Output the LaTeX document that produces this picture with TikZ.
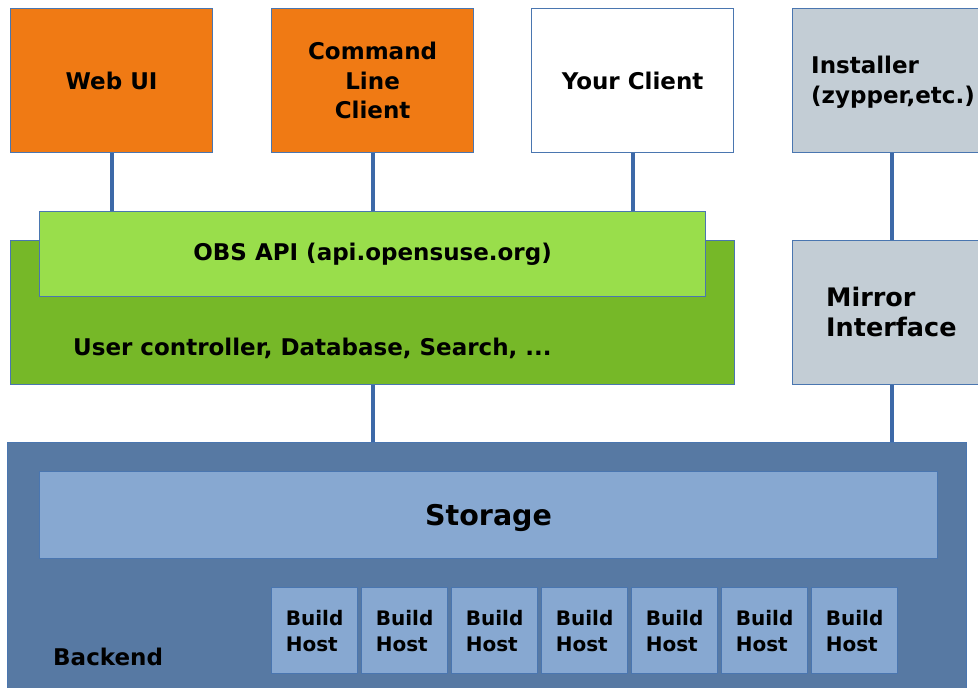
\documentclass[tikz,border=0pt]{standalone}
\usepackage{fontspec}
\setmainfont{DejaVu Sans}
\definecolor{orangeF}{HTML}{F07A14}
\definecolor{lgreen}{HTML}{99DE4B}
\definecolor{dgreen}{HTML}{76B828}
\definecolor{grayF}{HTML}{C3CDD5}
\definecolor{backF}{HTML}{5779A3}
\definecolor{storF}{HTML}{87A8D1}
\definecolor{edge}{HTML}{4A76B0}
\definecolor{conncol}{HTML}{3D69A8}
\tikzset{
  box/.style={draw=edge, line width=1.2pt, inner sep=0pt, anchor=north west, align=center,
    font=\fontsize{23}{29.5}\selectfont\bfseries},
  conn/.style={draw=conncol, line width=4pt},
  txt/.style={inner sep=0pt, align=left, font=\fontsize{23}{29.5}\selectfont\bfseries},
  hostbox/.style={box, fill=storF, minimum width=86pt, minimum height=86pt, align=left,
    font=\fontsize{20}{26}\selectfont\bfseries}
}
\begin{document}
\begin{tikzpicture}[x=1pt,y=-1pt]
\clip (0,0) rectangle (978,688);
\fill[white] (0,0) rectangle (978,688);
% top row
\node[box, fill=orangeF, minimum width=202pt, minimum height=144pt] (web) at (10,8) {Web UI};
\node[box, fill=orangeF, minimum width=202pt, minimum height=144pt] (cli) at (271,8) {Command\\Line\\Client};
\node[box, fill=white, minimum width=202pt, minimum height=144pt] (your) at (531,8) {Your Client};
\node[box, fill=grayF, minimum width=198pt, minimum height=144pt] (inst) at (792,8) {};
\node[txt, anchor=west] (insttxt) at (811,82) {Installer\\(zypper,etc.)};
% middle
\node[box, fill=dgreen, minimum width=724pt, minimum height=144pt] (logic) at (10,240) {};
\node[txt, anchor=west] (logictxt) at (73,348) {User controller, Database, Search, ...};
\node[box, fill=lgreen, minimum width=666pt, minimum height=85pt] (api) at (39,211) {OBS API (api.opensuse.org)};
\node[box, fill=grayF, minimum width=198pt, minimum height=144pt] (mirror) at (792,240) {};
\node[txt, anchor=west, font=\fontsize{25.5}{30}\selectfont\bfseries] (mirrortxt) at (826,312) {Mirror\\Interface};
% backend
\node[box, fill=backF, minimum width=959pt, minimum height=260pt] (backend) at (7,442) {};
\node[box, fill=storF, minimum width=898pt, minimum height=87pt, text depth=0pt,
  font=\fontsize{28.5}{34}\selectfont\bfseries] (storage) at (39,471) {Storage};
\node[txt, anchor=west] (backtxt) at (53,657) {Backend};
\foreach \i in {0,...,6}{
  \node[hostbox] (host\i) at ({271+90*\i},587) {Build\\Host};
}
% connectors
\draw[conn] (web.south) -- (web.south |- api.north);
\draw[conn] (cli.south) -- (cli.south |- api.north);
\draw[conn] (your.south) -- (your.south |- api.north);
\draw[conn] (inst.south) -- (mirror.north);
\draw[conn] (logic.south) -- (logic.south |- backend.north);
\draw[conn] (mirror.south) -- (mirror.south |- backend.north);
\end{tikzpicture}
\end{document}
